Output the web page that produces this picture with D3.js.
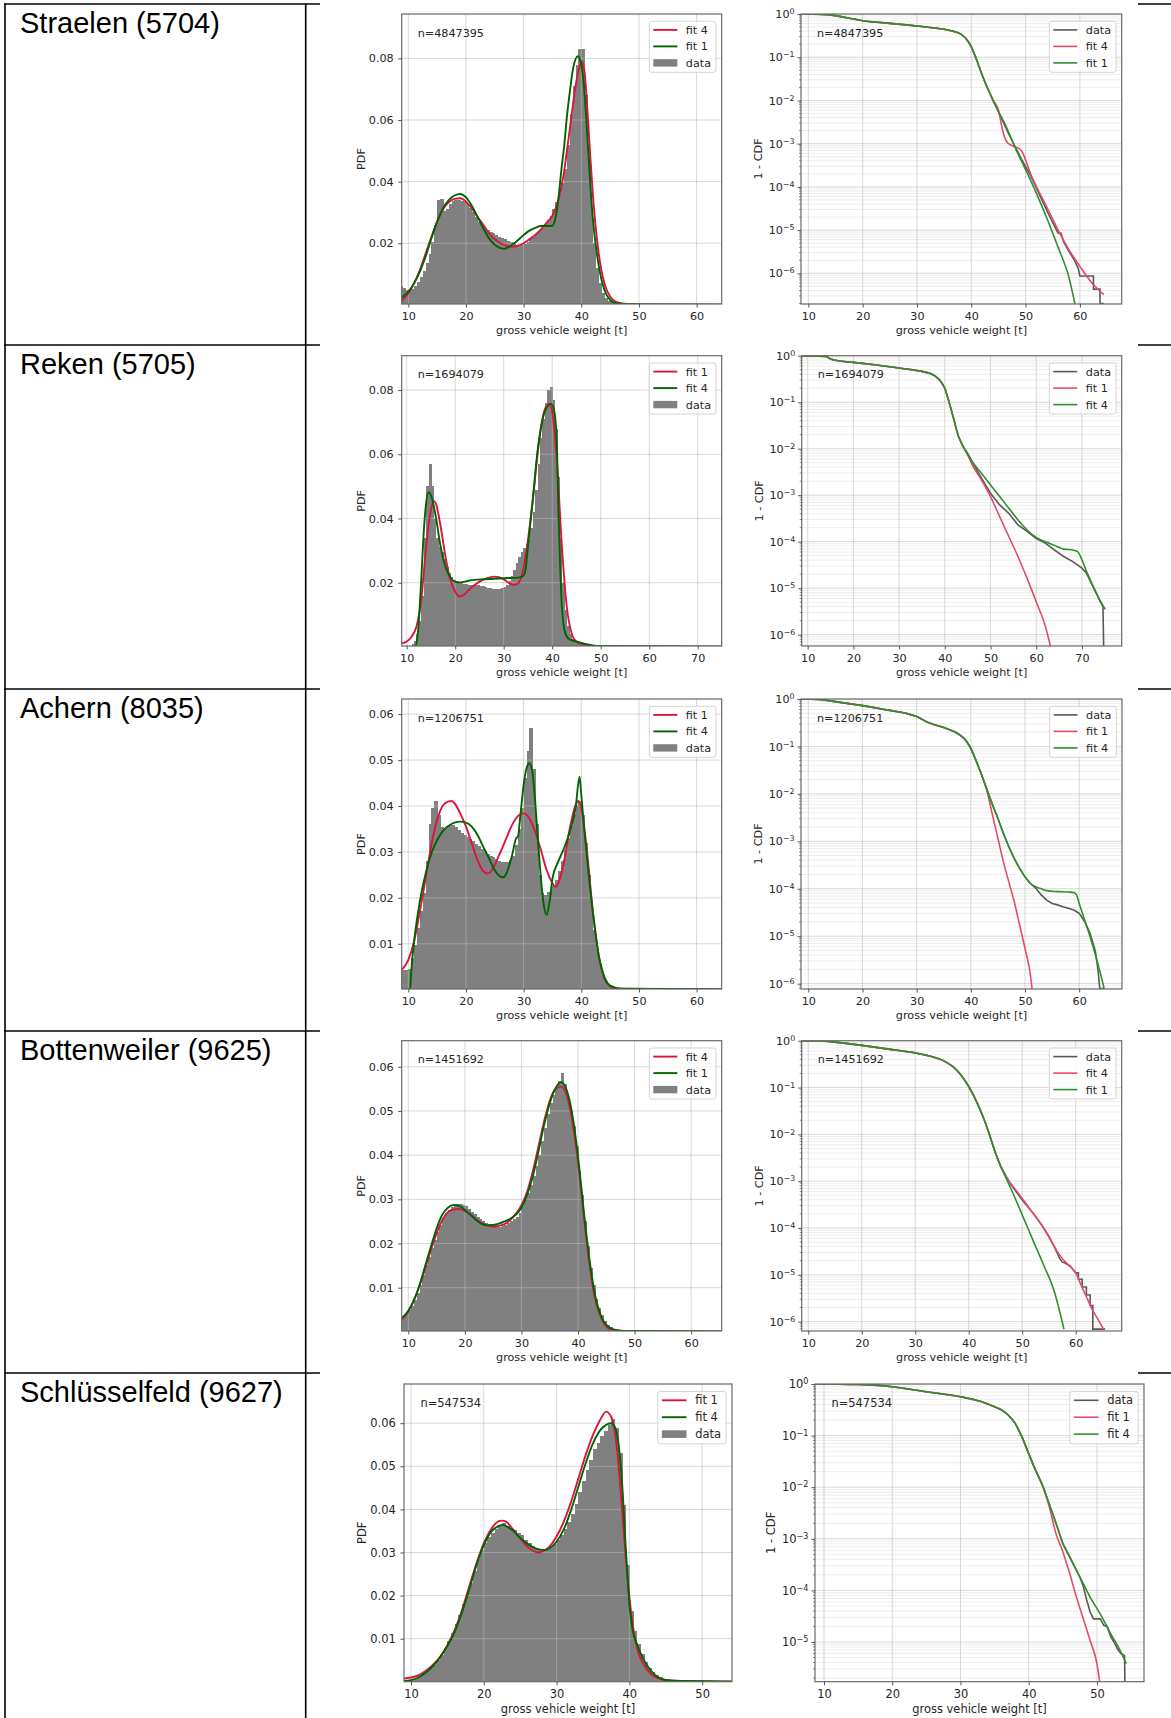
<!DOCTYPE html>
<html>
<head>
<meta charset="utf-8">
<script src="https://cdn.jsdelivr.net/npm/d3@7"></script>
<style>
  body { margin: 0; background: #fff; }
  svg { display: block; }
</style>
</head>
<body>
<svg id="chart" width="1171" height="1718"></svg>
<script>
// ---- data ----
var stations = ["Straelen (5704)", "Reken (5705)", "Achern (8035)", "Bottenweiler (9625)", "Schlüsselfeld (9627)"];
var sampleSizes = [4847395, 1694079, 1206751, 1451692, 547534];
var redFitLabels = ["fit 4", "fit 1", "fit 1", "fit 4", "fit 1"];
var greenFitLabels = ["fit 1", "fit 4", "fit 4", "fit 1", "fit 4"];

// histogram heights (PDF), bins of 0.5 t starting at 8.5 t
var histBinStart = 8.5;
var histBinWidth = 0.5;
var straelenHist = [0.006, 0.0056, 0.0049, 0.0047, 0.0053, 0.0062, 0.0075, 0.009, 0.011, 0.0135, 0.0165, 0.0205, 0.026, 0.034, 0.0345, 0.0305, 0.031, 0.0328, 0.0337, 0.034, 0.034, 0.0337, 0.0334, 0.0328, 0.0315, 0.030, 0.0285, 0.027, 0.0258, 0.0248, 0.0243, 0.0238, 0.0232, 0.0227, 0.0222, 0.0217, 0.0213, 0.0208, 0.0203, 0.0199, 0.0196, 0.0195, 0.0196, 0.0199, 0.0205, 0.0213, 0.0221, 0.023, 0.024, 0.025, 0.0262, 0.0275, 0.029, 0.031, 0.0333, 0.036, 0.0395, 0.044, 0.052, 0.062, 0.071, 0.078, 0.083, 0.083, 0.068, 0.048, 0.031, 0.02, 0.012, 0.007, 0.004, 0.0022, 0.0013, 0.0008, 0.0006, 0.0004, 0.0003, 0.0003, 0.0002];
var rekenHist = [0.0003, 0.0003, 0.0003, 0.0003, 0.0004, 0.0008, 0.0018, 0.004, 0.008, 0.016, 0.034, 0.050, 0.057, 0.050, 0.040, 0.034, 0.031, 0.0295, 0.0275, 0.025, 0.023, 0.0218, 0.0208, 0.0203, 0.020, 0.0198, 0.0197, 0.0195, 0.0194, 0.0194, 0.0193, 0.0193, 0.0192, 0.019, 0.0189, 0.0187, 0.0185, 0.0183, 0.0181, 0.018, 0.018, 0.0181, 0.0183, 0.0187, 0.0194, 0.0205, 0.0222, 0.024, 0.026, 0.028, 0.0295, 0.0308, 0.032, 0.0335, 0.037, 0.042, 0.049, 0.057, 0.065, 0.071, 0.076, 0.080, 0.081, 0.077, 0.068, 0.053, 0.034, 0.020, 0.0115, 0.0065, 0.004, 0.0025, 0.0016, 0.0011, 0.0008, 0.0006, 0.0005, 0.0004, 0.0003, 0.0002];
var achernHist = [0.0043, 0.0043, 0.0042, 0.0045, 0.0068, 0.0098, 0.0135, 0.0172, 0.021, 0.028, 0.036, 0.0395, 0.041, 0.038, 0.0355, 0.0352, 0.0356, 0.0358, 0.0358, 0.0355, 0.0348, 0.0342, 0.0336, 0.0332, 0.0328, 0.0323, 0.0318, 0.0312, 0.0307, 0.0301, 0.0296, 0.0291, 0.0288, 0.0284, 0.0281, 0.0279, 0.0278, 0.0279, 0.0282, 0.0292, 0.0315, 0.035, 0.0395, 0.046, 0.052, 0.057, 0.048, 0.036, 0.025, 0.021, 0.0207, 0.0212, 0.0217, 0.0225, 0.0238, 0.0258, 0.028, 0.0305, 0.033, 0.0357, 0.0382, 0.0403, 0.041, 0.038, 0.032, 0.025, 0.0185, 0.013, 0.0088, 0.0055, 0.0033, 0.0019, 0.0011, 0.0007, 0.0004, 0.0003, 0.0002];
var bottenweilerHist = [0.0028, 0.0033, 0.0041, 0.0049, 0.0059, 0.0072, 0.0088, 0.0106, 0.0128, 0.0152, 0.017, 0.0189, 0.0208, 0.0227, 0.0243, 0.0257, 0.0268, 0.0276, 0.0283, 0.0288, 0.029, 0.0289, 0.0287, 0.0284, 0.0278, 0.0272, 0.0266, 0.0261, 0.0255, 0.025, 0.0246, 0.0244, 0.0243, 0.0242, 0.024, 0.0238, 0.024, 0.0242, 0.0246, 0.025, 0.0255, 0.0261, 0.027, 0.0285, 0.030, 0.0315, 0.0333, 0.0352, 0.0375, 0.040, 0.0432, 0.0462, 0.0492, 0.0517, 0.0537, 0.0553, 0.0568, 0.0585, 0.0562, 0.053, 0.050, 0.0465, 0.042, 0.0365, 0.031, 0.025, 0.0195, 0.0145, 0.0105, 0.0075, 0.0054, 0.0038, 0.0025, 0.0016, 0.001, 0.0006, 0.0004, 0.0003, 0.0002];
var schluesselfeldHist = [0.0004, 0.0004, 0.0005, 0.0006, 0.0009, 0.0013, 0.0018, 0.0024, 0.0031, 0.004, 0.005, 0.0063, 0.0078, 0.0095, 0.0113, 0.0134, 0.0156, 0.018, 0.0205, 0.023, 0.0257, 0.0284, 0.0305, 0.0322, 0.0335, 0.0346, 0.0355, 0.0362, 0.0368, 0.0362, 0.0357, 0.0352, 0.0346, 0.034, 0.033, 0.0321, 0.0315, 0.031, 0.0307, 0.0306, 0.0308, 0.0313, 0.032, 0.033, 0.034, 0.0355, 0.037, 0.039, 0.0413, 0.044, 0.0465, 0.0492, 0.0515, 0.054, 0.0555, 0.057, 0.0583, 0.0597, 0.061, 0.059, 0.053, 0.041, 0.027, 0.0165, 0.0118, 0.0088, 0.0065, 0.0047, 0.0033, 0.0023, 0.0016, 0.0011, 0.0007, 0.0004, 0.0003, 0.0002];

// fitted PDFs [weight t, density]
var straelenPdfRed = [[8.85,0.0012],[10,0.0038],[11,0.007],[12,0.0113],[13,0.0167],[14,0.022],[15,0.027],[16,0.031],[17,0.0333],[18,0.0344],[19,0.0346],[20,0.0335],[21,0.0313],[22,0.0286],[23,0.026],[24,0.0232],[25,0.0213],[26,0.02],[27,0.0192],[28,0.0189],[29,0.0192],[30,0.02],[31,0.0213],[32,0.0227],[33,0.0245],[34,0.0267],[35,0.029],[36,0.034],[37,0.043],[37.5,0.05],[38,0.057],[39,0.071],[39.5,0.076],[40.1,0.079],[40.6,0.075],[41,0.065],[41.5,0.05],[42,0.036],[43,0.017],[44,0.007],[45,0.0027],[46,0.001],[48,0.0003],[52,0.0001],[64.4,0.00005]];
var straelenPdfGreen = [[8.85,0.0024],[10,0.0043],[11,0.007],[12,0.0108],[13,0.0157],[14,0.0216],[15,0.027],[16,0.0313],[17,0.034],[18,0.0355],[19,0.036],[20,0.0349],[21,0.0322],[22,0.0286],[23,0.0249],[24,0.0216],[25,0.0195],[26,0.0184],[26.6,0.0182],[27,0.0184],[28,0.0195],[29,0.021],[30,0.0227],[31,0.0241],[32,0.025],[33,0.0256],[34,0.0256],[35,0.0257],[35.5,0.028],[36,0.034],[36.6,0.0448],[37,0.051],[37.5,0.061],[38,0.069],[38.6,0.077],[39.4,0.0807],[40,0.078],[40.5,0.07],[41,0.056],[42,0.028],[43,0.013],[44,0.0049],[45,0.0016],[46,0.0006],[50,0.0002],[64.4,0.0001]];
var rekenPdfRed = [[8.97,0.0011],[10,0.0017],[11,0.0032],[12,0.0063],[13,0.0146],[14,0.0312],[15,0.0427],[15.6,0.0455],[16,0.0447],[17,0.0375],[18,0.0281],[19,0.0209],[20,0.0172],[21,0.0157],[22,0.0165],[23,0.018],[24,0.0193],[26,0.0211],[28,0.0219],[29,0.0217],[30,0.0211],[31,0.02],[32,0.0193],[33,0.0198],[34,0.024],[35,0.0333],[36,0.0458],[37,0.0603],[38,0.0712],[39,0.0754],[39.5,0.0757],[40,0.0733],[41,0.0572],[42,0.0312],[43,0.0126],[44,0.0043],[45,0.0017],[47,0.0006],[50,0.0002],[74.95,0.0001]];
var rekenPdfGreen = [[8.97,0],[11.7,0],[12.3,0.0043],[13,0.0209],[13.5,0.0354],[14,0.0447],[14.5,0.0482],[15,0.0473],[16,0.0406],[17,0.0312],[18,0.025],[19,0.0217],[20,0.0203],[21,0.0201],[23,0.0207],[26,0.0211],[30,0.0214],[33,0.0216],[34,0.0221],[34.5,0.024],[35,0.0312],[36,0.0458],[37,0.0613],[38,0.0707],[39,0.0748],[39.8,0.0757],[40.5,0.0728],[41,0.0613],[41.3,0.0416],[41.7,0.0229],[42,0.0126],[42.7,0.0043],[43.5,0.0024],[45,0.0017],[47,0.0009],[50,0.0003],[74.95,0.0001]];
var achernPdfRed = [[8.85,0.0043],[10,0.0065],[11,0.0105],[12,0.017],[13,0.0242],[14,0.0315],[15,0.037],[16,0.0401],[17,0.041],[17.5,0.0411],[18,0.0406],[19,0.0384],[20,0.0355],[21,0.0319],[22,0.0282],[23,0.0258],[23.8,0.0253],[24.5,0.026],[25,0.0272],[26,0.03],[27,0.033],[28,0.0359],[29,0.0378],[30,0.0384],[31,0.0373],[32,0.0344],[33,0.0304],[34,0.026],[35,0.0232],[35.5,0.0224],[36,0.0232],[37,0.0279],[38,0.0351],[39,0.0402],[39.5,0.0411],[40,0.0395],[41,0.03],[42,0.017],[43,0.0076],[44,0.0025],[45,0.0007],[46,0.0002],[64.4,0.00005]];
var achernPdfGreen = [[8.85,0],[10.3,0],[10.5,0.0039],[11,0.0105],[12,0.0192],[13,0.0253],[14,0.0297],[15,0.0326],[16,0.0346],[17,0.0357],[18,0.0364],[19,0.0366],[20,0.0364],[21,0.0355],[22,0.0337],[23,0.0311],[24,0.0286],[25,0.026],[26,0.0246],[26.5,0.0245],[27,0.0253],[28,0.0293],[28.7,0.033],[29,0.0333],[29.5,0.0388],[30,0.0446],[30.5,0.0482],[31,0.0493],[31.5,0.0475],[32,0.041],[32.5,0.0322],[33,0.0242],[33.5,0.0184],[34,0.0163],[34.5,0.0192],[35,0.0242],[36,0.0279],[37,0.0308],[38,0.0344],[39,0.0395],[39.7,0.0464],[40,0.0424],[40.5,0.0351],[41,0.0286],[42,0.017],[43,0.0076],[44,0.0028],[45,0.0009],[47,0.0002],[64.4,0.0001]];
var bottenweilerPdfRed = [[8.83,0.0027],[10,0.0046],[11,0.0072],[12,0.0105],[13,0.0144],[14,0.0185],[15,0.0223],[16,0.0253],[17,0.0271],[18,0.0277],[19,0.0278],[20,0.0274],[21,0.0265],[22,0.0255],[23,0.0246],[24,0.0241],[25,0.0238],[26,0.024],[27,0.0244],[28,0.0253],[29,0.0267],[30,0.0287],[31,0.0317],[32,0.0363],[33,0.0419],[34,0.0476],[35,0.0523],[36,0.0549],[37,0.0555],[38,0.0536],[39,0.0476],[40,0.0385],[41,0.0265],[42,0.0155],[43,0.0076],[44,0.0035],[45,0.0012],[46,0.0005],[50,0.0001],[65.4,0.0001]];
var bottenweilerPdfGreen = [[8.83,0.0031],[10,0.0048],[11,0.0072],[12,0.0106],[13,0.015],[14,0.0193],[15,0.0234],[16,0.0265],[17,0.0281],[18,0.0287],[19,0.0285],[20,0.0276],[21,0.0265],[22,0.0253],[23,0.0244],[24,0.0241],[25,0.0242],[26,0.0245],[27,0.025],[28,0.0256],[29,0.0265],[30,0.0281],[31,0.031],[32,0.0351],[33,0.0408],[34,0.0468],[35,0.0517],[36,0.0551],[37,0.0565],[38,0.0547],[39,0.0491],[40,0.0397],[41,0.0276],[42,0.0167],[43,0.0084],[44,0.0038],[45,0.0016],[46,0.0007],[48,0.0002],[65.4,0.0001]];
var schluesselfeldPdfRed = [[9.04,0.0008],[10,0.001],[11,0.0015],[12,0.0025],[13,0.0039],[14,0.0058],[15,0.0085],[16,0.012],[17,0.0166],[18,0.0221],[19,0.0275],[20,0.0321],[21,0.0354],[22,0.0372],[22.5,0.0374],[23,0.0372],[24,0.0354],[25,0.0333],[26,0.0313],[27,0.0302],[27.5,0.03],[28,0.0302],[29,0.0313],[30,0.0337],[31,0.0372],[32,0.0418],[33,0.0472],[34,0.0526],[35,0.0573],[36,0.0608],[36.8,0.0627],[37.5,0.0615],[38,0.058],[38.5,0.0507],[39,0.0399],[39.5,0.029],[40,0.0197],[40.5,0.0128],[41,0.0081],[42,0.0039],[43,0.0018],[44,0.0008],[46,0.0002],[54.1,0.00003]];
var schluesselfeldPdfGreen = [[9.04,0.0002],[10,0.0004],[11,0.001],[12,0.0021],[13,0.0036],[14,0.0057],[15,0.0083],[16,0.0116],[17,0.0161],[18,0.0214],[19,0.0271],[20,0.0317],[21,0.0348],[22,0.0361],[22.7,0.0364],[23,0.0362],[24,0.0351],[25,0.0334],[26,0.032],[27,0.031],[28,0.0306],[28.5,0.0306],[29,0.031],[30,0.0325],[31,0.0354],[32,0.0399],[33,0.0453],[34,0.0507],[35,0.0553],[36,0.0584],[37,0.0598],[37.5,0.06],[38,0.0592],[38.5,0.0553],[39,0.0461],[39.5,0.0313],[40,0.0182],[40.5,0.0116],[41,0.0089],[42,0.005],[43,0.0025],[44,0.001],[45,0.0004],[47,0.0002],[54.1,0.0001]];

// exceedance 1 - CDF [weight t, probability]
var straelenCdfData = [[8.85,1],[10,0.998],[14,0.955],[16,0.871],[18,0.776],[20,0.7],[25,0.608],[30,0.527],[35,0.442],[37,0.389],[38,0.347],[39,0.275],[40,0.176],[41,0.0863],[42,0.0389],[43,0.0191],[44,0.0102],[45,0.0055],[46,0.00295],[47,0.00158],[48,0.000891],[49,0.000501],[50,0.000295],[51,0.000174],[52,0.0000933],[53,0.00005],[54,0.0000269],[55,0.0000148],[56,0.0000085],[56.5,0.0000085],[57,0.0000054],[58,0.0000032],[59,0.000002],[59.7,0.0000013],[60,0.00000087],[62.5,0.00000087],[62.5,0.00000043],[63.7,0.00000043],[63.7,0.0000002],[64.4,0.0000002]];
var straelenCdfRed = [[8.85,1],[10,0.998],[14,0.955],[16,0.871],[18,0.776],[20,0.7],[25,0.608],[30,0.527],[35,0.442],[37,0.389],[38,0.347],[39,0.275],[40,0.176],[41,0.0863],[42,0.0389],[43,0.0191],[44,0.0102],[45,0.006],[45.5,0.00295],[46,0.00158],[46.5,0.00112],[47,0.000977],[48,0.000851],[49,0.000741],[49.5,0.000603],[50,0.000417],[51,0.000191],[52,0.000102],[54,0.0000324],[56,0.00001],[58,0.0000035],[60,0.00000145],[62,0.00000065],[64.4,0.00000032]];
var straelenCdfGreen = [[8.85,1],[10,0.998],[14,0.955],[16,0.871],[18,0.776],[20,0.7],[25,0.608],[30,0.527],[35,0.442],[37,0.389],[38,0.347],[39,0.275],[40,0.176],[41,0.0863],[42,0.0389],[43,0.0191],[44,0.0102],[45,0.0055],[46,0.00324],[48,0.000851],[50,0.000251],[52,0.0000708],[54,0.0000178],[56,0.00000398],[58,0.00000079],[59.1,0.000000195]];
var rekenCdfData = [[8.69,1],[14,0.966],[15,0.851],[17,0.767],[20,0.718],[25,0.631],[30,0.542],[35,0.46],[37,0.407],[38,0.359],[39,0.288],[40,0.2],[41,0.0955],[42,0.0417],[43,0.0182],[44,0.0112],[45,0.00794],[46,0.00525],[47,0.00347],[48,0.00234],[50,0.0011],[52,0.000617],[54,0.000407],[56,0.000229],[58,0.000166],[60,0.000117],[62,0.0000933],[64,0.0000661],[66,0.0000479],[68,0.0000372],[70,0.0000269],[71,0.0000209],[72,0.0000132],[73,0.0000083],[74,0.0000051],[74.6,0.000004],[74.75,0.00000057]];
var rekenCdfRed = [[8.69,1],[14,0.966],[15,0.851],[17,0.767],[20,0.718],[25,0.631],[30,0.542],[35,0.46],[37,0.407],[38,0.359],[39,0.288],[40,0.2],[41,0.0955],[42,0.0417],[43,0.0182],[44,0.0112],[45,0.00741],[46,0.00447],[48,0.00214],[50,0.000933],[52,0.000347],[54,0.000129],[56,0.0000479],[58,0.0000162],[60,0.0000051],[62,0.0000015],[63.1,0.00000057]];
var rekenCdfGreen = [[8.69,1],[14,0.966],[15,0.851],[17,0.767],[20,0.718],[25,0.631],[30,0.542],[35,0.46],[37,0.407],[38,0.359],[39,0.288],[40,0.2],[41,0.0955],[42,0.0417],[43,0.0182],[44,0.0112],[45,0.00741],[46,0.00525],[48,0.00295],[50,0.00166],[52,0.000933],[54,0.000525],[56,0.000295],[58,0.000178],[60,0.000123],[62,0.0001],[64,0.0000832],[66,0.0000692],[68,0.0000661],[69,0.0000617],[70,0.0000407],[71,0.0000229],[72,0.0000138],[73,0.0000083],[74,0.0000054],[75.1,0.0000035]];
var achernCdfData = [[8.65,1],[12,0.977],[15,0.879],[20,0.724],[25,0.575],[28,0.501],[30,0.427],[32,0.324],[33,0.295],[35,0.251],[37,0.204],[38,0.174],[39,0.138],[40,0.0912],[41,0.049],[42,0.0251],[43,0.012],[44,0.00589],[45,0.00302],[46,0.00148],[47,0.000776],[48,0.000437],[49,0.000269],[50,0.000178],[51,0.000129],[52,0.000102],[53,0.0000741],[54,0.0000575],[55,0.000049],[56,0.0000457],[57,0.0000417],[58,0.0000389],[59,0.0000355],[60,0.0000302],[61,0.0000204],[62,0.0000115],[63,0.0000047],[63.5,0.0000018],[63.8,0.00000079],[64.6,0.00000079]];
var achernCdfRed = [[8.65,1],[12,0.977],[15,0.879],[20,0.724],[25,0.575],[28,0.501],[30,0.427],[32,0.324],[33,0.295],[35,0.251],[37,0.204],[38,0.174],[39,0.138],[40,0.0912],[41,0.049],[42,0.0251],[43,0.0112],[44,0.00355],[45,0.00115],[46,0.000372],[47,0.000141],[48,0.0000537],[49,0.0000174],[50,0.0000055],[51,0.0000015],[51.3,0.00000078]];
var achernCdfGreen = [[8.65,1],[12,0.977],[15,0.879],[20,0.724],[25,0.575],[28,0.501],[30,0.427],[32,0.324],[33,0.295],[35,0.251],[37,0.204],[38,0.174],[39,0.138],[40,0.0912],[41,0.049],[42,0.0251],[43,0.012],[44,0.00589],[45,0.00302],[46,0.00148],[47,0.000776],[48,0.000437],[49,0.000269],[50,0.000178],[51,0.000129],[52,0.00011],[53,0.0001],[54,0.0000912],[56,0.0000871],[58,0.0000851],[59,0.0000832],[59.5,0.0000741],[60,0.000049],[61,0.0000219],[62,0.0000098],[63,0.000004],[64,0.0000015],[64.6,0.00000079]];
var bottenweilerCdfData = [[8.77,1],[12,0.998],[15,0.933],[20,0.794],[25,0.661],[30,0.55],[33,0.462],[35,0.389],[37,0.282],[38,0.219],[39,0.158],[40,0.105],[41,0.0646],[42,0.0363],[43,0.0191],[44,0.00891],[45,0.00398],[46,0.00204],[47,0.00126],[47.5,0.001],[48,0.000813],[49,0.000562],[50,0.000398],[51,0.000288],[52,0.000209],[53,0.000148],[54,0.0001],[55,0.0000661],[56,0.0000398],[57,0.0000224],[57.5,0.0000186],[58,0.0000178],[59,0.0000151],[60,0.000011],[60.5,0.000011],[60.5,0.000008],[61.2,0.000008],[61.2,0.0000055],[62,0.0000055],[62,0.0000037],[62.7,0.0000037],[62.7,0.0000022],[63.2,0.0000022],[63.2,0.00000069],[65.5,0.00000069]];
var bottenweilerCdfRed = [[8.77,1],[12,0.998],[15,0.933],[20,0.794],[25,0.661],[30,0.55],[33,0.462],[35,0.389],[37,0.282],[38,0.219],[39,0.158],[40,0.105],[41,0.0646],[42,0.0363],[43,0.0191],[44,0.00891],[45,0.00398],[46,0.00204],[47,0.00126],[47.5,0.001],[48,0.000851],[49,0.000603],[50,0.000427],[52,0.000209],[54,0.0001],[56,0.0000398],[57,0.0000263],[58,0.0000191],[59,0.0000151],[60,0.000011],[61,0.000006],[62,0.0000034],[63,0.0000019],[64,0.0000012],[65.3,0.00000066]];
var bottenweilerCdfGreen = [[8.77,1],[12,0.998],[15,0.933],[20,0.794],[25,0.661],[30,0.55],[33,0.462],[35,0.389],[37,0.282],[38,0.219],[39,0.158],[40,0.105],[41,0.0646],[42,0.0363],[43,0.0191],[44,0.00891],[45,0.00398],[46,0.00204],[47,0.00115],[48,0.000646],[50,0.000191],[52,0.000055],[54,0.0000162],[56,0.0000044],[57.8,0.00000069]];
var schluesselfeldCdfData = [[8.68,1],[12,0.995],[15,0.98],[18,0.94],[20,0.885],[25,0.708],[30,0.568],[33,0.457],[35,0.363],[36,0.316],[37,0.251],[38,0.174],[39,0.0955],[40,0.0447],[41,0.0214],[42,0.011],[43,0.00479],[44,0.002],[45,0.000813],[46,0.000447],[47,0.000245],[47.5,0.00018],[48,0.00012],[48.5,0.000065],[49,0.000038],[49.5,0.000028],[50.5,0.000028],[51,0.000021],[51.5,0.00002],[52,0.000013],[52.5,0.00001],[53,0.0000074],[53.5,0.000006],[54.05,0.0000055],[54.1,0.0000017]];
var schluesselfeldCdfRed = [[8.68,1],[12,0.995],[15,0.98],[18,0.94],[20,0.885],[25,0.708],[30,0.568],[33,0.457],[35,0.363],[36,0.316],[37,0.251],[38,0.174],[39,0.0955],[40,0.0447],[41,0.0214],[42,0.011],[43,0.0042],[44,0.00126],[45,0.000562],[46,0.000214],[47,0.0000741],[48,0.0000282],[49,0.0000107],[50,0.0000038],[50.4,0.0000017]];
var schluesselfeldCdfGreen = [[8.68,1],[12,0.995],[15,0.98],[18,0.94],[20,0.885],[25,0.708],[30,0.568],[33,0.457],[35,0.363],[36,0.316],[37,0.251],[38,0.174],[39,0.0955],[40,0.0447],[41,0.0214],[42,0.011],[43,0.00479],[44,0.002],[45,0.000813],[46,0.000447],[47,0.000245],[48,0.000135],[49,0.0000741],[50,0.0000447],[51,0.0000263],[52,0.0000145],[53,0.0000087],[54.3,0.0000038]];

// axis limits and ticks
var pdfXDomains = [[8.85, 64.35], [8.97, 74.95], [8.85, 64.35], [8.83, 65.4], [9.04, 54.1]];
var pdfYDomains = [[0.0003, 0.0944], [0.0003, 0.0907], [0.00015, 0.0633], [0.0002, 0.0659], [0.00002, 0.0691]];
var cdfXDomains = [[8.65, 67.7], [8.69, 78.7], [8.65, 67.9], [8.77, 68.6], [8.68, 56.9]];
var cdfYDomains = [[1.95e-7, 1], [5.7e-7, 1], [7.7e-7, 1], [6.3e-7, 1], [1.7e-6, 1]];
var weightTicks = [[10, 20, 30, 40, 50, 60], [10, 20, 30, 40, 50, 60, 70], [10, 20, 30, 40, 50, 60], [10, 20, 30, 40, 50, 60], [10, 20, 30, 40, 50]];
var pdfYTicks = [[0.02, 0.04, 0.06, 0.08], [0.02, 0.04, 0.06, 0.08], [0.01, 0.02, 0.03, 0.04, 0.05, 0.06], [0.01, 0.02, 0.03, 0.04, 0.05, 0.06], [0.01, 0.02, 0.03, 0.04, 0.05, 0.06]];
var cdfYTicks = [[1, 1e-1, 1e-2, 1e-3, 1e-4, 1e-5, 1e-6], [1, 1e-1, 1e-2, 1e-3, 1e-4, 1e-5, 1e-6], [1, 1e-1, 1e-2, 1e-3, 1e-4, 1e-5, 1e-6], [1, 1e-1, 1e-2, 1e-3, 1e-4, 1e-5, 1e-6], [1, 1e-1, 1e-2, 1e-3, 1e-4, 1e-5]];

var histograms = [straelenHist, rekenHist, achernHist, bottenweilerHist, schluesselfeldHist];
var pdfRedFits = [straelenPdfRed, rekenPdfRed, achernPdfRed, bottenweilerPdfRed, schluesselfeldPdfRed];
var pdfGreenFits = [straelenPdfGreen, rekenPdfGreen, achernPdfGreen, bottenweilerPdfGreen, schluesselfeldPdfGreen];
var cdfDataLines = [straelenCdfData, rekenCdfData, achernCdfData, bottenweilerCdfData, schluesselfeldCdfData];
var cdfRedFits = [straelenCdfRed, rekenCdfRed, achernCdfRed, bottenweilerCdfRed, schluesselfeldCdfRed];
var cdfGreenFits = [straelenCdfGreen, rekenCdfGreen, achernCdfGreen, bottenweilerCdfGreen, schluesselfeldCdfGreen];

// ---- layout ----
var svg = d3.select("#chart");
var FONT = "'DejaVu Sans', sans-serif";
var RED = "#dc143c", GREEN = "#006400", HIST = "#808080";
var CDF_RED = "#e64a6a", CDF_GREEN = "#2f8f2f", CDF_DATA = "#585858";

var rowLines = [4, 345, 689, 1031, 1373];
var pdfBoxes = [
  {left: 401.7, top: 14, width: 320, height: 290},
  {left: 401.7, top: 355.7, width: 320, height: 290.3},
  {left: 401.7, top: 699, width: 320, height: 290},
  {left: 401.7, top: 1040.7, width: 320, height: 290.3},
  {left: 404, top: 1384, width: 328, height: 297.7}
];
var cdfBoxes = [
  {left: 801, top: 14, width: 320.7, height: 290},
  {left: 801.7, top: 355.7, width: 320, height: 290.3},
  {left: 801, top: 699, width: 321, height: 290},
  {left: 801.7, top: 1040.7, width: 320, height: 290.3},
  {left: 815, top: 1384, width: 329, height: 297.7}
];
var fontScale = [1, 1, 1, 1, 1.025];

svg.append("rect").attr("width", 1171).attr("height", 1718).attr("fill", "#fff");

// table frame
var table = svg.append("g").attr("stroke", "#000").attr("stroke-width", 1.6);
table.append("line").attr("x1", 5).attr("x2", 5).attr("y1", 3.2).attr("y2", 1718);
table.append("line").attr("x1", 305.7).attr("x2", 305.7).attr("y1", 3.2).attr("y2", 1718);
rowLines.forEach(function (y) {
  table.append("line").attr("x1", 4.2).attr("x2", 320).attr("y1", y).attr("y2", y);
  table.append("line").attr("x1", 1138).attr("x2", 1171).attr("y1", y).attr("y2", y);
});
svg.append("g").selectAll("text").data(stations).join("text")
  .attr("x", 20)
  .attr("y", function (d, i) { return rowLines[i] + 28.5; })
  .attr("font-family", "'Liberation Sans', Arial, sans-serif")
  .attr("font-size", 29)
  .attr("fill", "#000")
  .text(function (d) { return d; });

function styleAxis(ax, fs) {
  ax.attr("font-family", FONT).attr("font-size", fs);
  ax.select(".domain").remove();
  ax.selectAll(".tick line").attr("stroke", "#444").attr("stroke-width", 0.9);
  ax.selectAll(".tick text").attr("fill", "#262626");
}

function drawLegend(g, box, s, fs, entries) {
  var w = 66.7 * s, h = 51 * s;
  var lg = g.append("g").attr("transform", "translate(" + (box.width - 5.7 * s - w) + "," + (7.3 * s) + ")");
  lg.append("rect").attr("width", w).attr("height", h).attr("rx", 2.5)
    .attr("fill", "#fff").attr("fill-opacity", 0.8)
    .attr("stroke", "#d4d4d4").attr("stroke-width", 1);
  entries.forEach(function (e, k) {
    var cy = (8.6 + 16.5 * k) * s;
    if (e.patch) {
      lg.append("rect").attr("x", 4 * s).attr("y", cy - 3.7 * s)
        .attr("width", 24 * s).attr("height", 7.4 * s).attr("fill", e.color);
    } else {
      lg.append("line").attr("x1", 4 * s).attr("x2", 28 * s).attr("y1", cy).attr("y2", cy)
        .attr("stroke", e.color).attr("stroke-width", e.width);
    }
    lg.append("text").attr("x", 36.5 * s).attr("y", cy).attr("dy", "0.36em")
      .attr("font-family", FONT).attr("font-size", fs).attr("fill", "#262626")
      .text(e.label);
  });
}

function drawPanel(i, kind) {
  var isCdf = kind === "cdf";
  var box = isCdf ? cdfBoxes[i] : pdfBoxes[i];
  var s = fontScale[i];
  var fs = 11.2 * s;
  var g = svg.append("g").attr("transform", "translate(" + box.left + "," + box.top + ")");

  var x = d3.scaleLinear().domain(isCdf ? cdfXDomains[i] : pdfXDomains[i]).range([0, box.width]);
  var y = (isCdf ? d3.scaleLog() : d3.scaleLinear())
    .domain(isCdf ? cdfYDomains[i] : pdfYDomains[i]).range([box.height, 0]);
  var yTicks = isCdf ? cdfYTicks[i] : pdfYTicks[i];

  var clipId = "clip-" + kind + "-" + i;
  g.append("clipPath").attr("id", clipId)
    .append("rect").attr("width", box.width).attr("height", box.height);
  var plot = g.append("g").attr("clip-path", "url(#" + clipId + ")");

  var minor = [];
  if (isCdf) {
    var lo = y.domain()[0];
    for (var e = Math.floor(Math.log10(lo)); e < 0; e++) {
      for (var m = 2; m <= 9; m++) {
        var v = m * Math.pow(10, e);
        if (v >= lo) minor.push(v);
      }
    }
  }

  if (!isCdf) {
    // histogram bars
    plot.append("g").attr("shape-rendering", "crispEdges")
      .selectAll("rect").data(histograms[i]).join("rect")
      .attr("x", function (d, k) { return x(histBinStart + k * histBinWidth); })
      .attr("width", function (d, k) {
        return x(histBinStart + (k + 1) * histBinWidth) - x(histBinStart + k * histBinWidth) + 0.6;
      })
      .attr("y", function (d) { return y(d); })
      .attr("height", function (d) { return y(0) - y(d); })
      .attr("fill", HIST);
  }

  // grid
  var grid = plot.append("g");
  grid.selectAll(".minor").data(minor).join("line").attr("class", "minor")
    .attr("x1", 0).attr("x2", box.width)
    .attr("y1", function (d) { return y(d); }).attr("y2", function (d) { return y(d); })
    .attr("stroke", "#e9e9e9").attr("stroke-width", 0.8);
  grid.selectAll(".gx").data(weightTicks[i]).join("line").attr("class", "gx")
    .attr("x1", function (d) { return x(d); }).attr("x2", function (d) { return x(d); })
    .attr("y1", 0).attr("y2", box.height)
    .attr("stroke", "#b8b8b8").attr("stroke-opacity", 0.55).attr("stroke-width", 1);
  grid.selectAll(".gy").data(yTicks).join("line").attr("class", "gy")
    .attr("x1", 0).attr("x2", box.width)
    .attr("y1", function (d) { return y(d); }).attr("y2", function (d) { return y(d); })
    .attr("stroke", "#b8b8b8").attr("stroke-opacity", 0.55).attr("stroke-width", 1);

  var smooth = d3.line().x(function (d) { return x(d[0]); }).y(function (d) { return y(d[1]); })
    .curve(d3.curveMonotoneX);
  var straight = d3.line().x(function (d) { return x(d[0]); }).y(function (d) { return y(d[1]); });

  if (isCdf) {
    plot.append("path").datum(cdfDataLines[i]).attr("d", straight)
      .attr("fill", "none").attr("stroke", CDF_DATA).attr("stroke-width", 1.6);
    plot.append("path").datum(cdfRedFits[i]).attr("d", smooth)
      .attr("fill", "none").attr("stroke", CDF_RED).attr("stroke-width", 1.6);
    plot.append("path").datum(cdfGreenFits[i]).attr("d", smooth)
      .attr("fill", "none").attr("stroke", CDF_GREEN).attr("stroke-width", 1.6);
  } else {
    plot.append("path").datum(pdfRedFits[i]).attr("d", smooth)
      .attr("fill", "none").attr("stroke", RED).attr("stroke-width", 1.9);
    plot.append("path").datum(pdfGreenFits[i]).attr("d", smooth)
      .attr("fill", "none").attr("stroke", GREEN).attr("stroke-width", 1.9);
  }

  // frame
  g.append("rect").attr("width", box.width).attr("height", box.height)
    .attr("fill", "none").attr("stroke", "#6a6a6a").attr("stroke-width", 1.2);

  // axes
  var xa = g.append("g").attr("transform", "translate(0," + box.height + ")")
    .call(d3.axisBottom(x).tickValues(weightTicks[i]).tickSize(3.5 * s).tickPadding(4.5 * s)
      .tickFormat(d3.format("d")));
  styleAxis(xa, fs);

  if (isCdf) {
    var ya = g.append("g")
      .call(d3.axisLeft(y).tickValues(yTicks).tickSize(3.5 * s).tickPadding(3 * s)
        .tickFormat(function () { return ""; }));
    styleAxis(ya, fs);
    ya.selectAll(".tick text").each(function (d) {
      var ex = Math.round(Math.log10(d));
      var t = d3.select(this);
      t.append("tspan").text("10");
      t.append("tspan").attr("dy", "-0.5em").style("font-size", (fs * 0.7) + "px")
        .text(ex < 0 ? "\u2212" + (-ex) : String(ex));
    });
    g.append("g").selectAll("line").data(minor).join("line")
      .attr("x1", 0).attr("x2", -2 * s)
      .attr("y1", function (d) { return y(d); }).attr("y2", function (d) { return y(d); })
      .attr("stroke", "#444").attr("stroke-width", 0.6);
  } else {
    var yb = g.append("g")
      .call(d3.axisLeft(y).tickValues(yTicks).tickSize(3.5 * s).tickPadding(4.5 * s)
        .tickFormat(d3.format(".2f")));
    styleAxis(yb, fs);
  }

  // labels
  g.append("text").attr("x", box.width / 2).attr("y", box.height + 30.3 * s)
    .attr("text-anchor", "middle").attr("font-family", FONT).attr("font-size", fs)
    .attr("fill", "#262626").text("gross vehicle weight [t]");
  g.append("text")
    .attr("transform", "translate(" + (-(isCdf ? 42.7 : 40.7) * s) + "," + (box.height / 2) + ") rotate(-90)")
    .attr("text-anchor", "middle").attr("dy", "0.36em")
    .attr("font-family", FONT).attr("font-size", fs).attr("fill", "#262626")
    .text(isCdf ? "1 - CDF" : "PDF");
  g.append("text").attr("x", 16 * s).attr("y", 22.7 * s)
    .attr("font-family", FONT).attr("font-size", fs).attr("fill", "#262626")
    .text("n=" + sampleSizes[i]);

  if (isCdf) {
    drawLegend(g, box, s, fs, [
      {label: "data", color: CDF_DATA, width: 1.6},
      {label: redFitLabels[i], color: CDF_RED, width: 1.6},
      {label: greenFitLabels[i], color: CDF_GREEN, width: 1.6}
    ]);
  } else {
    drawLegend(g, box, s, fs, [
      {label: redFitLabels[i], color: RED, width: 1.9},
      {label: greenFitLabels[i], color: GREEN, width: 1.9},
      {label: "data", color: HIST, patch: true}
    ]);
  }
}

stations.forEach(function (d, i) {
  drawPanel(i, "pdf");
  drawPanel(i, "cdf");
});
</script>
</body>
</html>
